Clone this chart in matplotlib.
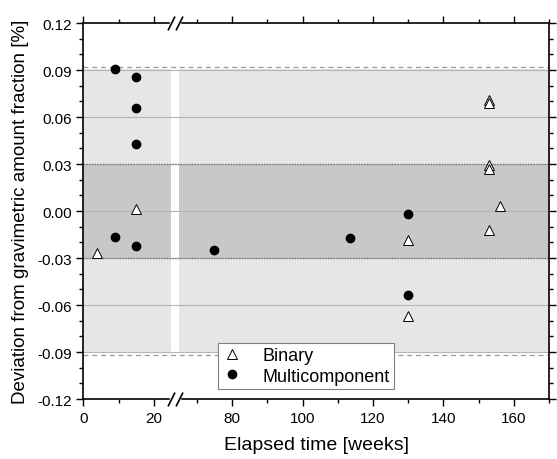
import numpy as np
import matplotlib
matplotlib.use('Agg')
import matplotlib.pyplot as plt
from matplotlib.transforms import blended_transform_factory

plt.rcParams['font.family'] = ['Liberation Sans', 'DejaVu Sans']

# elapsed time [weeks] and deviation [%]
binary_weeks = [4, 15, 130, 130, 153, 153, 153, 153, 156, 153]
binary_dev = [-0.0265, 0.0013, -0.0187, -0.0667, 0.0709, 0.0687, 0.0291, 0.0270, 0.0034, -0.0124]

multi_weeks = [9, 15, 15, 15, 9, 15, 75, 113.5, 130, 130]
multi_dev = [0.0904, 0.0856, 0.0659, 0.0428, -0.0166, -0.0225, -0.0248, -0.0175, -0.0021, -0.0535]

x_major = [0, 20, 80, 100, 120, 140, 160]
x_minor = [10, 70, 90, 110, 130, 150, 170]
y_major = [-0.12, -0.09, -0.06, -0.03, 0.00, 0.03, 0.06, 0.09, 0.12]

outer_limit = 0.092   # dashed lines
outer_band = 0.0905
inner_limit = 0.0303  # dotted lines

# axis break between these weeks, squeezed into a small gap
BRK_LO, BRK_HI, GAP = 25.0, 65.0, 2.2


def fwd(x):
    x = np.asarray(x, dtype=float)
    return np.where(x <= BRK_LO, x,
                    np.where(x >= BRK_HI, x - (BRK_HI - BRK_LO) + GAP,
                             BRK_LO + (x - BRK_LO) * GAP / (BRK_HI - BRK_LO)))


def inv(y):
    y = np.asarray(y, dtype=float)
    return np.where(y <= BRK_LO, y,
                    np.where(y >= BRK_LO + GAP, y + (BRK_HI - BRK_LO) - GAP,
                             BRK_LO + (y - BRK_LO) * (BRK_HI - BRK_LO) / GAP))


fig = plt.figure(figsize=(5.57, 4.6), dpi=100)
ax = fig.add_axes([0.1496, 0.1304, 0.8364, 0.8174])
ax.set_xscale('function', functions=(fwd, inv))
ax.set_xlim(0, 170)
ax.set_ylim(-0.12, 0.12)

# bands
ax.axhspan(-outer_band, outer_band, color='#e6e6e6', lw=0, zorder=0)
ax.axhspan(-inner_limit, inner_limit, color='#c8c8c8', lw=0, zorder=0.5)
ax.axvspan(BRK_LO, BRK_HI, color='white', lw=0, zorder=1.5)

# grid
for yv in y_major[1:-1]:
    ax.axhline(yv, color='#b4b4b4', lw=0.8, zorder=2)
for yv in (-outer_limit, outer_limit):
    ax.axhline(yv, color='#9a9a9a', lw=0.9, ls=(0, (4, 3)), zorder=2.5)
for yv in (-inner_limit, inner_limit):
    ax.axhline(yv, color='#7a7a7a', lw=1.0, ls=(0, (1, 1)), zorder=2.5)

ax.plot(binary_weeks, binary_dev, ls='none', marker='^', ms=7.5,
        mfc='white', mec='black', mew=0.7, label='Binary', zorder=4)
ax.plot(multi_weeks, multi_dev, ls='none', marker='o', ms=6,
        mfc='black', mec='black', label='Multicomponent', zorder=4)

ax.set_xticks(x_major)
ax.set_xticks(x_minor, minor=True)
ax.set_xticklabels([str(v) for v in x_major])
ax.set_yticks(y_major)
ax.set_yticks(np.arange(-0.12, 0.1201, 0.01), minor=True)
ax.set_yticklabels(['%.2f' % v for v in y_major])
ax.tick_params(which='both', direction='out', top=True, right=True, labelsize=11, width=1)
ax.tick_params(which='major', length=5)
ax.tick_params(which='minor', length=3)
for s in ax.spines.values():
    s.set_linewidth(1.2)

ax.set_xlabel('Elapsed time [weeks]', fontsize=14, labelpad=8)
ax.set_ylabel('Deviation from gravimetric amount fraction [%]', fontsize=13.5, labelpad=6)

# break marks on top and bottom spines
trans = blended_transform_factory(ax.transData, ax.transAxes)
for yb in (0, 1):
    ax.plot([BRK_LO, BRK_HI], [yb, yb], color='white', lw=2.5, transform=trans,
            clip_on=False, zorder=5)
    for xb in (BRK_LO, BRK_HI):
        ax.plot([xb], [yb], marker=[(-0.5, -1), (0.5, 1)], ms=10, mec='black',
                mew=1.2, ls='none', transform=trans, clip_on=False, zorder=6)

leg = ax.legend(loc='lower left', bbox_to_anchor=(0.29, 0.026), borderaxespad=0,
                fontsize=13, fancybox=False, framealpha=1, edgecolor='#808080',
                handlelength=1.0, handletextpad=1.2, labelspacing=0.2,
                borderpad=0.25)
leg.get_frame().set_linewidth(0.8)
leg.set_zorder(7)

fig.savefig('out.png', dpi=100)
